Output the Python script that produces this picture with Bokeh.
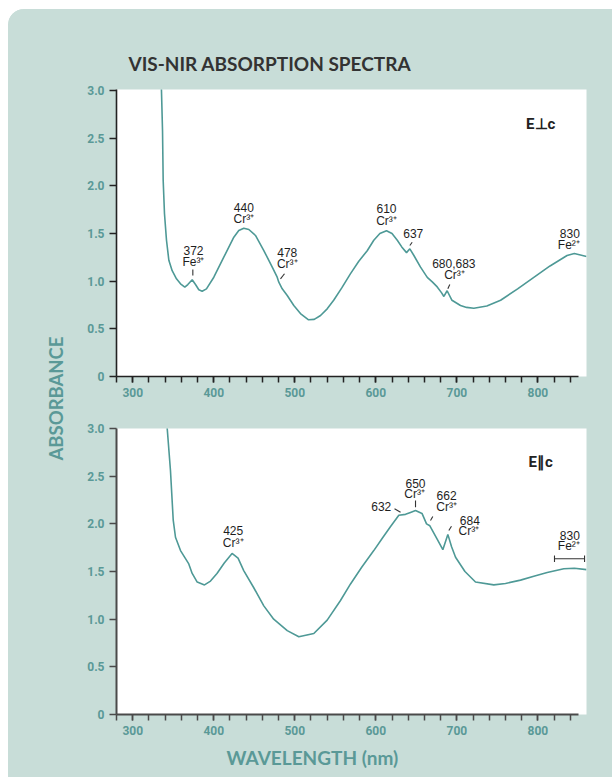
import numpy as np
from bokeh.plotting import figure
from bokeh.models import ColumnDataSource, Label, FixedTicker, Title
from bokeh.layouts import row, column
from bokeh.core.properties import value
from bokeh.embed import file_html
from bokeh.resources import INLINE

# ---------------- data ----------------
perp_nm = [335.3, 335.5, 336.8, 337.6, 339.2, 341.7, 344.6, 348.7, 354.0, 359.0, 364.3, 368.0,
           373.4, 377.5, 381.6, 385.7, 391.0, 400.1, 412.4, 424.8, 430.9, 437.1, 443.3, 451.5,
           461.8, 472.2, 478.3, 480.3, 484.5, 490.7, 498.8, 507.0, 517.0, 524.0, 531.8, 540.0,
           548.0, 558.0, 568.8, 579.0, 589.4, 597.5, 605.0, 613.2, 620.0, 626.5, 632.0, 637.9,
           642.0, 647.0, 655.0, 663.5, 670.0, 675.8, 681.0, 684.0, 688.0, 694.0, 704.5, 712.0,
           721.0, 737.0, 754.0, 775.0, 795.0, 815.0, 836.0, 845.0, 860.0]
perp_abs = [3.05, 3.00, 2.58, 2.06, 1.71, 1.43, 1.22, 1.11, 1.025, 0.973, 0.937, 0.965,
            1.015, 0.965, 0.91, 0.895, 0.92, 1.042, 1.252, 1.462, 1.532, 1.556, 1.543, 1.48,
            1.322, 1.147, 1.042, 0.99, 0.92, 0.85, 0.745, 0.66, 0.595, 0.60, 0.64, 0.71,
            0.80, 0.93, 1.08, 1.21, 1.32, 1.43, 1.50, 1.53, 1.50, 1.43, 1.36, 1.30,
            1.34, 1.27, 1.15, 1.04, 0.99, 0.94, 0.88, 0.84, 0.90, 0.80, 0.745, 0.725,
            0.717, 0.74, 0.80, 0.92, 1.04, 1.16, 1.27, 1.29, 1.26]

par_nm = [342.2, 342.5, 346.6, 350.0, 352.8, 359.0, 369.2, 373.4, 379.6, 388.6, 396.0, 404.0,
          413.0, 422.6, 430.0, 437.0, 449.4, 461.8, 474.0, 490.7, 505.0, 523.5, 540.0, 556.4,
          568.8, 583.0, 597.5, 608.0, 618.0, 628.4, 636.7, 642.8, 649.0, 657.0, 662.6, 666.7,
          675.7, 682.7, 688.9, 693.5, 698.4, 710.0, 723.0, 745.6, 760.0, 778.6, 795.0, 811.5,
          832.0, 845.0, 860.0]
par_abs = [3.05, 3.01, 2.56, 2.04, 1.86, 1.72, 1.58, 1.48, 1.39, 1.36, 1.40, 1.48,
           1.59, 1.69, 1.64, 1.51, 1.33, 1.14, 1.00, 0.88, 0.815, 0.85, 0.99, 1.196,
           1.37, 1.55, 1.72, 1.85, 1.97, 2.09, 2.10, 2.12, 2.14, 2.11, 2.00, 1.98,
           1.84, 1.73, 1.89, 1.76, 1.65, 1.50, 1.39, 1.36, 1.375, 1.41, 1.45, 1.49,
           1.53, 1.535, 1.52]

x_major = [300, 400, 500, 600, 700, 800]
x_minor = list(range(280, 841, 20))
y_ticks = [0, 0.5, 1.0, 1.5, 2.0, 2.5, 3.0]
y_tick_labels = ["0", "0.5", "1.0", "1.5", "2.0", "2.5", "3.0"]

# peak annotations (E perp c)
t_text = ["372", "Fe³⁺", "440", "Cr³⁺", "478", "Cr³⁺", "610", "Cr³⁺", "637",
          "680,683", "Cr³⁺", "830", "Fe²⁺"]
t_x = [375.0, 375.0, 437.1, 437.1, 490.7, 490.7, 613.2, 613.2, 646.2, 696.3, 697.1, 839.4, 838.2]
t_y = [1.322, 1.199, 1.776, 1.658, 1.304, 1.183, 1.760, 1.637, 1.497, 1.183, 1.060, 1.497, 1.375]
t_seg_x0 = [374.2, 482.4, 642.0, 688.9]
t_seg_y0 = [1.060, 1.025, 1.375, 0.920]
t_seg_x1 = [374.2, 487.3, 644.9, 691.3]
t_seg_y1 = [1.123, 1.078, 1.409, 0.965]

# peak annotations (E parallel c)
b_text = ["425", "Cr³⁺", "632", "650", "Cr³⁺", "662", "Cr³⁺", "684", "Cr³⁺", "830", "Fe²⁺"]
b_x = [424.0, 424.0, 606.7, 649.0, 647.8, 687.3, 687.3, 716.0, 714.8, 839.4, 838.2]
b_y = [1.931, 1.802, 2.186, 2.427, 2.316, 2.298, 2.175, 2.036, 1.923, 1.878, 1.763]
b_seg_x0 = [649.0, 623.1, 667.5, 690.1, 820.5, 820.5, 857.6]
b_seg_y0 = [2.175, 2.158, 2.036, 1.931, 1.634, 1.600, 1.600]
b_seg_x1 = [649.0, 630.5, 670.3, 693.4, 857.6, 820.5, 857.6]
b_seg_y1 = [2.246, 2.123, 2.078, 1.976, 1.634, 1.668, 1.668]

pol_top = "E⊥c"
pol_bot = "E∥c"
pol_x = 803.5
pol_y = 2.645

# ---------------- style ----------------
PANEL = "#C8DDD8"
TEAL = "#5A9997"
LINE = "#4E9996"


def style_axes(p, axis_color, axis_width):
    p.grid.visible = False
    p.outline_line_color = None
    p.background_fill_color = "white"
    p.border_fill_color = PANEL
    xa = p.xaxis[0]
    xa.ticker = FixedTicker(ticks=x_major, minor_ticks=x_minor)
    xa.bounds = (280, 850)
    xa.axis_line_color = axis_color
    xa.axis_line_width = axis_width
    xa.major_tick_line_color = axis_color
    xa.minor_tick_line_color = axis_color
    xa.major_tick_line_width = 1.5
    xa.minor_tick_line_width = 1.5
    xa.major_tick_in = 0
    xa.major_tick_out = 6
    xa.minor_tick_in = 0
    xa.minor_tick_out = 6
    xa.major_label_standoff = 5
    ya = p.yaxis[0]
    ya.ticker = FixedTicker(ticks=y_ticks)
    ya.major_label_overrides = dict(zip(y_ticks, y_tick_labels))
    ya.axis_line_color = axis_color
    ya.axis_line_width = axis_width
    ya.major_tick_line_color = axis_color
    ya.major_tick_line_width = 1.5
    ya.major_tick_in = 0
    ya.major_tick_out = 7
    ya.minor_tick_line_color = None
    ya.major_label_standoff = 5
    for ax in (xa, ya):
        ax.major_label_text_font = "Roboto"
        ax.major_label_text_font_style = "bold"
        ax.major_label_text_font_size = "12px"
        ax.major_label_text_color = TEAL


def add_annotations(p, txt, xs, ys, sx0, sy0, sx1, sy1):
    src = ColumnDataSource(dict(x=xs, y=ys, text=txt))
    p.text(x="x", y="y", text="text", source=src, text_align="center",
           text_baseline="middle", text_font=value("Liberation Sans"),
           text_font_size=value("12px"), text_color="#1e1e1e")
    seg = ColumnDataSource(dict(x0=sx0, y0=sy0, x1=sx1, y1=sy1))
    p.segment(x0="x0", y0="y0", x1="x1", y1="y1", source=seg,
              line_color="#333333", line_width=1.1)


# ---------------- top plot ----------------
top = figure(width=544, height=401, x_range=(280, 860), y_range=(0, 3.012),
             toolbar_location=None, output_backend="svg",
             min_border_left=48, min_border_right=26, min_border_top=80,
             min_border_bottom=34)
top.title = Title(text="VIS-NIR ABSORPTION SPECTRA", align="left", offset=12,
                  standoff=29, text_font="Lato", text_font_style="bold",
                  text_font_size="19px", text_color="#333333")
style_axes(top, "#222222", 1.6)
top.line(perp_nm, perp_abs, line_color=LINE, line_width=1.6)
add_annotations(top, t_text, t_x, t_y, t_seg_x0, t_seg_y0, t_seg_x1, t_seg_y1)
top.text(x=[pol_x], y=[pol_y], text=[pol_top], text_align="center", text_baseline="middle",
         text_font=value("Roboto"), text_font_style="bold", text_font_size=value("15px"),
         text_color="#222222")

# ---------------- bottom plot ----------------
bot = figure(width=544, height=367, x_range=(280, 860), y_range=(0, 3.001),
             toolbar_location=None, output_backend="svg",
             min_border_left=48, min_border_right=26, min_border_top=18,
             min_border_bottom=63)
style_axes(bot, "#4a4a4a", 2)
bot.line(par_nm, par_abs, line_color=LINE, line_width=1.6)
add_annotations(bot, b_text, b_x, b_y, b_seg_x0, b_seg_y0, b_seg_x1, b_seg_y1)
bot.text(x=[pol_x], y=[pol_y], text=[pol_bot], text_align="center", text_baseline="middle",
         text_font=value("Roboto"), text_font_style="bold", text_font_size=value("15px"),
         text_color="#222222")
bot.add_layout(Title(text="WAVELENGTH (nm)", align="left", offset=110, standoff=12,
                     text_font="Lato", text_font_style="bold", text_font_size="19px",
                     text_color=TEAL), "below")

# ---------------- side label ----------------
side = figure(width=60, height=768, x_range=(0, 1), y_range=(0, 1),
              toolbar_location=None, output_backend="svg",
              x_axis_location=None, y_axis_location=None,
              min_border=0)
side.grid.visible = False
side.outline_line_color = None
side.background_fill_color = PANEL
side.border_fill_color = PANEL
side.add_layout(Label(x=47, y=379, x_units="screen", y_units="screen",
                      text="ABSORBANCE", angle=np.pi / 2, text_align="center",
                      text_baseline="middle", text_font="Lato", text_font_style="bold",
                      text_font_size="18.5px", text_color=TEAL))

layout = row(side, column(top, bot))
layout.styles = {"background-color": PANEL, "border-top-left-radius": "16px",
                 "overflow": "hidden", "margin-left": "8px", "margin-top": "9px"}
open("out.html", "w").write(file_html(layout, INLINE))
